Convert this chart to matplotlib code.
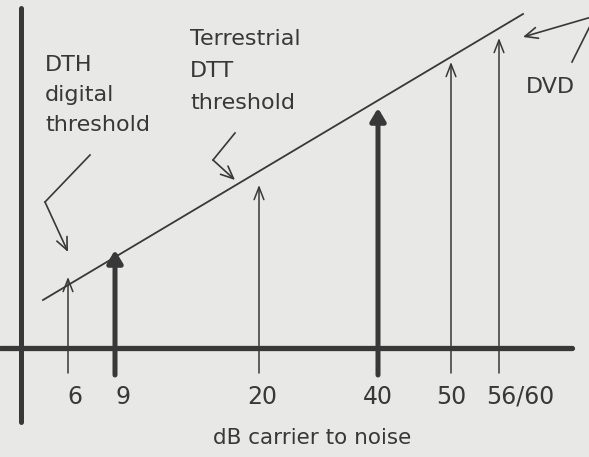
import matplotlib
matplotlib.use('Agg')
import matplotlib.pyplot as plt

# diagram drawn in a 589 x 457 canvas coordinate system (y downwards)
tick_labels = ['6', '9', '20', '40', '50', '56/60']
tick_x = [68, 115, 259, 378, 451, 499]
arrow_tip = [277, 250, 185, 108, 62, 38]
thick = [False, True, False, True, False, False]

threshold_line_x = [43, 523]
threshold_line_y = [300, 14]

ink = '#383838'
paper = '#e8e8e6'

fig = plt.figure(figsize=(5.89, 4.57), dpi=100, facecolor=paper)
ax = fig.add_axes([0, 0, 1, 1])
ax.set_facecolor(paper)
ax.set_xlim(0, 589)
ax.set_ylim(457, 0)
ax.axis('off')

# axes
ax.plot([21, 21], [8, 422], color=ink, lw=3.6, solid_capstyle='round')
ax.plot([0, 572], [348, 348], color=ink, lw=3.8, solid_capstyle='round')

# threshold slope
ax.plot(threshold_line_x, threshold_line_y, color=ink, lw=1.3)

# arrows
for x, tip, lab, big in zip(tick_x, arrow_tip, tick_labels, thick):
    if big:
        ax.annotate('', xy=(x, tip), xytext=(x, 375),
                    arrowprops=dict(arrowstyle='-|>,head_length=0.75,head_width=0.45',
                                    color=ink, lw=3.6, shrinkA=0, shrinkB=0,
                                    joinstyle='round'))
    else:
        ax.annotate('', xy=(x, tip), xytext=(x, 373),
                    arrowprops=dict(arrowstyle='->,head_length=0.9,head_width=0.35',
                                    color=ink, lw=1.1, shrinkA=0, shrinkB=0))

label_x = [75, 123, 262, 378, 451, 520]
for lx, lab in zip(label_x, tick_labels):
    ax.text(lx, 397, lab, ha='center', va='center', fontsize=17, color=ink)

ax.text(312, 438, 'dB carrier to noise', ha='center', va='center', fontsize=15.5, color=ink)

# callout text
ax.text(45, 95, 'DTH\ndigital\nthreshold', ha='left', va='center', fontsize=16,
        color=ink, linespacing=1.6)
ax.text(190, 71, 'Terrestrial\nDTT\nthreshold', ha='left', va='center', fontsize=16,
        color=ink, linespacing=1.75)
ax.text(550, 87, 'DVD', ha='center', va='center', fontsize=16, color=ink)

# leader lines
def leader(pts):
    xs = [p[0] for p in pts[:-1]]
    ys = [p[1] for p in pts[:-1]]
    ax.plot(xs, ys, color=ink, lw=1.2, clip_on=True)
    ax.annotate('', xy=pts[-1], xytext=pts[-2],
                arrowprops=dict(arrowstyle='->,head_length=0.9,head_width=0.4',
                                color=ink, lw=1.2, shrinkA=0, shrinkB=0))

leader([(90, 155), (45, 202), (68, 252)])
leader([(235, 133), (213, 160), (235, 180)])
leader([(572, 62), (595, 16), (523, 37)])

fig.savefig('out.png', dpi=100, facecolor=paper)
